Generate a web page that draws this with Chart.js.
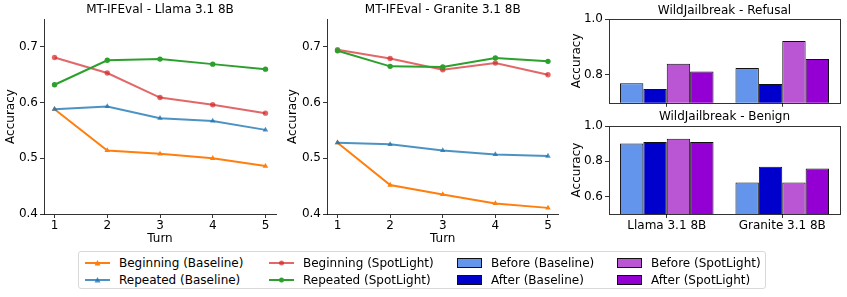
<!DOCTYPE html>
<html>
<head>
<meta charset="utf-8">
<script src="https://cdn.jsdelivr.net/npm/chart.js@4.4.1/dist/chart.umd.min.js"></script>
<style>
  html, body { margin: 0; padding: 0; background: #fff; }
  body { width: 847px; height: 297px; position: relative; overflow: hidden; font-family: "DejaVu Sans", sans-serif; }
  canvas { position: absolute; }
  #legend { position: absolute; left: 78px; top: 251px; width: 688px; height: 38px; border: 1px solid #d9d9d9; border-radius: 3px; box-sizing: border-box; font-size: 12px; color: #000; }
  .item { position: absolute; display: flex; align-items: center; height: 14px; white-space: nowrap; }
  .item svg { margin-right: 9px; }
</style>
</head>
<body>
<canvas id="c1" style="left:0;top:0"></canvas>
<canvas id="c2" style="left:280px;top:0"></canvas>
<canvas id="c3" style="left:560px;top:0"></canvas>
<canvas id="c4" style="left:560px;top:108px"></canvas>
<div id="legend"></div>
<script>
// ---------- data ----------
const turns = [1, 2, 3, 4, 5];
const lineTicksY = [0.4, 0.5, 0.6, 0.7];

const llamaBeginBase  = [0.588, 0.514, 0.508, 0.500, 0.486];
const llamaRepBase    = [0.588, 0.593, 0.572, 0.567, 0.551];
const llamaBeginSpot  = [0.681, 0.653, 0.609, 0.596, 0.581];
const llamaRepSpot    = [0.632, 0.676, 0.678, 0.669, 0.660];

const graniteBeginBase = [0.528, 0.452, 0.435, 0.419, 0.411];
const graniteRepBase   = [0.528, 0.525, 0.514, 0.507, 0.504];
const graniteBeginSpot = [0.695, 0.679, 0.659, 0.671, 0.650];
const graniteRepSpot   = [0.693, 0.665, 0.664, 0.680, 0.674];

const models = ['Llama 3.1 8B', 'Granite 3.1 8B'];
const refusalTicksY = [0.8, 1.0];
const benignTicksY = [0.6, 0.8, 1.0];

const refusalBeforeBase = [0.770, 0.825];
const refusalAfterBase  = [0.749, 0.767];
const refusalBeforeSpot = [0.840, 0.921];
const refusalAfterSpot  = [0.812, 0.857];

const benignBeforeBase = [0.900, 0.679];
const benignAfterBase  = [0.909, 0.768];
const benignBeforeSpot = [0.928, 0.679];
const benignAfterSpot  = [0.909, 0.758];

const lineNames = ['Beginning (Baseline)', 'Repeated (Baseline)', 'Beginning (SpotLight)', 'Repeated (SpotLight)'];
const barNames = ['Before (Baseline)', 'After (Baseline)', 'Before (SpotLight)', 'After (SpotLight)'];

// ---------- styles ----------
const lineColors = ['#ff7f0e', 'rgba(31,119,180,0.8)', 'rgba(214,39,40,0.7)', '#2ca02c'];
const lineMarkers = ['triangle', 'triangle', 'circle', 'circle'];
const barColors = ['#6495ED', '#0000CD', '#BA55D3', '#9400D3'];
const FONT = '"DejaVu Sans", sans-serif';
const AXC = 'rgba(0,0,0,0.8)';

Chart.defaults.font.family = FONT;
Chart.defaults.font.size = 12;
Chart.defaults.color = '#000';
Chart.defaults.animation = false;
Chart.defaults.devicePixelRatio = 1;
Chart.defaults.responsive = false;
Chart.defaults.plugins.legend.display = false;
Chart.defaults.plugins.tooltip.enabled = false;

const titlePlugin = {
  id: 'topTitle',
  afterDraw(chart, args, opts) {
    const ca = chart.chartArea, ctx = chart.ctx;
    ctx.save();
    ctx.font = '12px ' + FONT;
    ctx.fillStyle = '#000';
    ctx.textAlign = 'center';
    ctx.textBaseline = 'middle';
    ctx.fillText(opts.text, (ca.left + ca.right) / 2, opts.y);
    ctx.restore();
  }
};
const boxPlugin = {
  id: 'box',
  afterDatasetsDraw(chart, args, opts) {
    if (!opts.on) return;
    const ca = chart.chartArea, ctx = chart.ctx;
    ctx.save();
    ctx.strokeStyle = AXC;
    ctx.lineWidth = 1;
    ctx.strokeRect(Math.round(ca.left) + 0.5, Math.round(ca.top) + 0.5, Math.round(ca.right - ca.left), Math.round(ca.bottom - ca.top));
    ctx.restore();
  }
};
Chart.register(titlePlugin, boxPlugin);

function sizeCanvas(id, w, h) {
  const c = document.getElementById(id);
  c.width = w; c.height = h;
  c.style.width = w + 'px'; c.style.height = h + 'px';
  return c;
}

function lineChart(id, title, series, yAxisW, padRight, yTitlePad) {
  const c = sizeCanvas(id, 290, 250);
  new Chart(c, {
    type: 'line',
    data: {
      datasets: series.map((arr, i) => ({
        label: lineNames[i],
        data: turns.map((t, k) => ({ x: t, y: arr[k] })),
        borderColor: lineColors[i],
        backgroundColor: lineColors[i],
        borderWidth: 2,
        pointStyle: lineMarkers[i],
        pointRadius: lineMarkers[i] === 'triangle' ? 3.2 : 2.7,
        pointBorderWidth: 0,
        tension: 0,
        order: 4 - i
      }))
    },
    options: {
      layout: { padding: { top: 19, right: padRight, left: 0, bottom: 0 } },
      plugins: { topTitle: { text: title, y: 10 }, box: { on: false } },
      scales: {
        x: {
          type: 'linear', min: 0.8, max: 5.2,
          afterBuildTicks: s => { s.ticks = turns.map(v => ({ value: v })); },
          afterFit: s => { s.height = 36; },
          grid: { drawOnChartArea: false, drawTicks: true, tickLength: 4, color: AXC },
          border: { display: true, color: AXC, width: 1 },
          ticks: { padding: 1, font: { size: 12 }, callback: v => String(v) },
          title: { display: true, text: 'Turn', font: { size: 12 }, padding: { top: 0, bottom: 4 } }
        },
        y: {
          min: 0.4, max: 0.75,
          afterBuildTicks: s => { s.ticks = lineTicksY.map(v => ({ value: v })); },
          afterFit: s => { s.width = yAxisW; },
          grid: { drawOnChartArea: false, drawTicks: true, tickLength: 4, color: AXC },
          border: { display: true, color: AXC, width: 1 },
          ticks: { padding: 2, font: { size: 12 }, callback: v => v.toFixed(1) },
          title: { display: true, text: 'Accuracy', font: { size: 12 }, padding: { top: yTitlePad, bottom: 0 } }
        }
      }
    }
  });
}

lineChart('c1', 'MT-IFEval - Llama 3.1 8B', [llamaBeginBase, llamaRepBase, llamaBeginSpot, llamaRepSpot], 44, 14, 4);
lineChart('c2', 'MT-IFEval - Granite 3.1 8B', [graniteBeginBase, graniteRepBase, graniteBeginSpot, graniteRepSpot], 47, 11.5, 6);

function barChart(id, h, padTop, xH, title, titleY, series, yMin, ticksY, showLabels) {
  const c = sizeCanvas(id, 287, h);
  new Chart(c, {
    type: 'bar',
    data: {
      labels: models,
      datasets: series.map((arr, i) => ({
        label: barNames[i],
        data: arr,
        backgroundColor: barColors[i],
        borderColor: '#111',
        borderWidth: 1,
        borderSkipped: false,
        barPercentage: 1.0,
        categoryPercentage: 0.81
      }))
    },
    options: {
      layout: { padding: { top: padTop, right: 7, left: 0, bottom: 0 } },
      plugins: { topTitle: { text: title, y: titleY }, box: { on: true } },
      scales: {
        x: {
          afterFit: s => { s.height = xH; },
          grid: { offset: false, drawOnChartArea: false, drawTicks: true, tickLength: 4, color: AXC },
          border: { display: false },
          ticks: { display: showLabels, padding: 1, font: { size: 12 } }
        },
        y: {
          min: yMin, max: 1.0,
          afterBuildTicks: s => { s.ticks = ticksY.map(v => ({ value: v })); },
          afterFit: s => { s.width = 49; },
          grid: { drawOnChartArea: false, drawTicks: true, tickLength: 4, color: AXC },
          border: { display: false },
          ticks: { padding: 2, font: { size: 12 }, callback: v => v.toFixed(1) },
          title: { display: true, text: 'Accuracy', font: { size: 12 }, padding: { top: 10, bottom: 0 } }
        }
      }
    }
  });
}

barChart('c3', 112, 19, 4, 'WildJailbreak - Refusal', 11,
  [refusalBeforeBase, refusalAfterBase, refusalBeforeSpot, refusalAfterSpot], 0.7, refusalTicksY, false);
barChart('c4', 142, 18, 36, 'WildJailbreak - Benign', 9,
  [benignBeforeBase, benignAfterBase, benignBeforeSpot, benignAfterSpot], 0.5, benignTicksY, true);

// ---------- legend ----------
function lineHandle(color, marker) {
  const m = marker === 'triangle'
    ? `<polygon points="12.5,2 15.5,7.5 9.5,7.5" fill="${color}"/>`
    : `<circle cx="12.5" cy="5" r="2.5" fill="${color}"/>`;
  return `<svg width="25" height="10"><line x1="0" y1="5" x2="25" y2="5" stroke="${color}" stroke-width="2"/>${m}</svg>`;
}
function patchHandle(color) {
  return `<svg width="25" height="10"><rect x="0.5" y="0.5" width="24" height="9" fill="${color}" stroke="#111" stroke-width="1"/></svg>`;
}
const legendItems = [
  { x: 6,   row: 0, h: lineHandle(lineColors[0], lineMarkers[0]), t: lineNames[0] },
  { x: 6,   row: 1, h: lineHandle(lineColors[1], lineMarkers[1]), t: lineNames[1] },
  { x: 190, row: 0, h: lineHandle(lineColors[2], lineMarkers[2]), t: lineNames[2] },
  { x: 190, row: 1, h: lineHandle(lineColors[3], lineMarkers[3]), t: lineNames[3] },
  { x: 378, row: 0, h: patchHandle(barColors[0]), t: barNames[0] },
  { x: 378, row: 1, h: patchHandle(barColors[1]), t: barNames[1] },
  { x: 538, row: 0, h: patchHandle(barColors[2]), t: barNames[2] },
  { x: 538, row: 1, h: patchHandle(barColors[3]), t: barNames[3] }
];
const lg = document.getElementById('legend');
legendItems.forEach(it => {
  const d = document.createElement('div');
  d.className = 'item';
  d.style.left = it.x + 'px';
  d.style.top = (it.row === 0 ? 3.5 : 21) + 'px';
  d.innerHTML = it.h + '<span>' + it.t + '</span>';
  lg.appendChild(d);
});
</script>
</body>
</html>
